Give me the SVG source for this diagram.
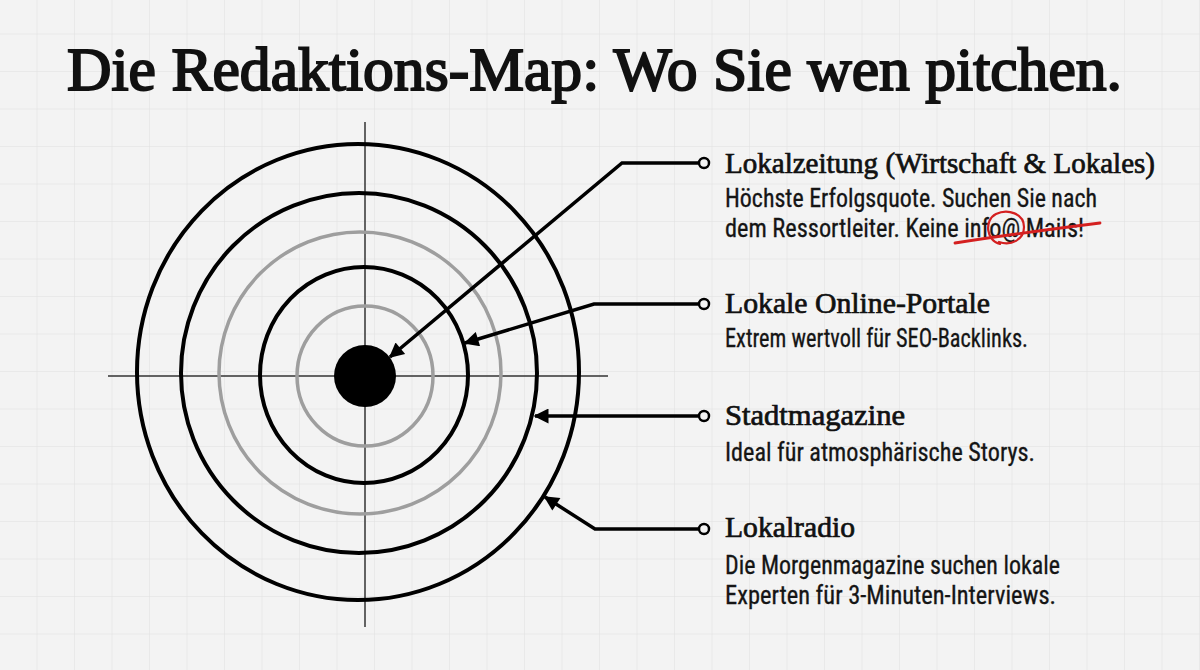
<svg xmlns="http://www.w3.org/2000/svg" width="1200" height="670" viewBox="0 0 1200 670">
<defs>
<pattern id="grid" x="0" y="-3" width="37.5" height="37.5" patternUnits="userSpaceOnUse">
<path d="M37.5,0 V37.5 M0,37.5 H37.5" fill="none" stroke="#e0e0e0" stroke-width="1"/>
</pattern>
<marker id="arr" viewBox="0 0 10 10" refX="9" refY="5" markerWidth="17" markerHeight="15" markerUnits="userSpaceOnUse" orient="auto">
<path d="M0,0 L10,5 L0,10 z" fill="#000"/>
</marker>
<style>
.title{font-family:"Liberation Serif","Times New Roman",serif;font-size:61px;fill:#111;stroke:#111;stroke-width:2}
.head{font-family:"Liberation Serif","Times New Roman",serif;font-size:29px;fill:#111;stroke:#111;stroke-width:0.7}
.body{font-family:"Liberation Sans Narrow","Roboto Condensed","Liberation Sans",sans-serif;font-size:25px;fill:#151515;stroke:#151515;stroke-width:0.3}
.ring{fill:none;stroke:#000;stroke-width:4}
.gray{fill:none;stroke:#9e9e9e;stroke-width:3.5}
.cross{stroke:#333;stroke-width:1.5}
.conn{fill:none;stroke:#000;stroke-width:3.5}
.dotend{fill:#f3f3f3;stroke:#000;stroke-width:2.5}
</style>
</defs>
<rect width="1200" height="670" fill="#f3f3f3"/>
<rect width="1200" height="670" fill="url(#grid)"/>
<text class="title" x="67" y="90" textLength="1055" lengthAdjust="spacingAndGlyphs">Die Redaktions-Map: Wo Sie wen pitchen.</text>
<g id="target">
<line class="cross" x1="365" y1="122" x2="365" y2="627"/>
<line class="cross" x1="108" y1="376" x2="608" y2="376"/>
<ellipse class="ring" cx="358" cy="372" rx="221" ry="228"/>
<ellipse class="ring" cx="359" cy="373" rx="178" ry="180"/>
<ellipse class="gray" cx="360" cy="373" rx="141" ry="141"/>
<ellipse class="ring" cx="364" cy="375" rx="104" ry="108"/>
<ellipse class="gray" cx="365" cy="376" rx="68" ry="70"/>
<circle cx="365" cy="376" r="31" fill="#000"/>
</g>
<g id="connectors">
<path class="conn" d="M698,163 L622,163 L390,357" marker-end="url(#arr)"/>
<path class="conn" d="M698,304 L594,304 L465,343" marker-end="url(#arr)"/>
<path class="conn" d="M698,416 L535,416" marker-end="url(#arr)"/>
<path class="conn" d="M698,529 L595,529 L545,497" marker-end="url(#arr)"/>
<circle class="dotend" cx="704" cy="163" r="5"/>
<circle class="dotend" cx="704" cy="304" r="5"/>
<circle class="dotend" cx="704" cy="416" r="5"/>
<circle class="dotend" cx="704" cy="529" r="5"/>
</g>
<g id="lokalzeitung">
<text class="head" x="725" y="173" textLength="430" lengthAdjust="spacingAndGlyphs">Lokalzeitung (Wirtschaft &amp; Lokales)</text>
<text class="body" x="725" y="207" textLength="372" lengthAdjust="spacingAndGlyphs">Höchste Erfolgsquote. Suchen Sie nach</text>
<text class="body" x="725" y="237" textLength="359" lengthAdjust="spacingAndGlyphs">dem Ressortleiter. Keine info@ Mails!</text>
<path d="M955,243 C1000,236 1060,228 1100,223" fill="none" stroke="#d42020" stroke-width="2.8" stroke-linecap="round"/>
<path d="M1000,244 C986,241 984,220 996,214 C1008,208 1024,214 1024,227 C1024,240 1011,246 999,242" fill="none" stroke="#d42020" stroke-width="2.2" stroke-linecap="round"/>
</g>
<g id="online">
<text class="head" x="725" y="313" textLength="265" lengthAdjust="spacingAndGlyphs">Lokale Online-Portale</text>
<text class="body" x="725" y="347" textLength="303" lengthAdjust="spacingAndGlyphs">Extrem wertvoll für SEO-Backlinks.</text>
</g>
<g id="stadtmagazine">
<text class="head" x="725" y="425" textLength="180" lengthAdjust="spacingAndGlyphs">Stadtmagazine</text>
<text class="body" x="725" y="461" textLength="310" lengthAdjust="spacingAndGlyphs">Ideal für atmosphärische Storys.</text>
</g>
<g id="lokalradio">
<text class="head" x="725" y="537" textLength="130" lengthAdjust="spacingAndGlyphs">Lokalradio</text>
<text class="body" x="725" y="574" textLength="335" lengthAdjust="spacingAndGlyphs">Die Morgenmagazine suchen lokale</text>
<text class="body" x="725" y="604" textLength="331" lengthAdjust="spacingAndGlyphs">Experten für 3-Minuten-Interviews.</text>
</g>
</svg>
